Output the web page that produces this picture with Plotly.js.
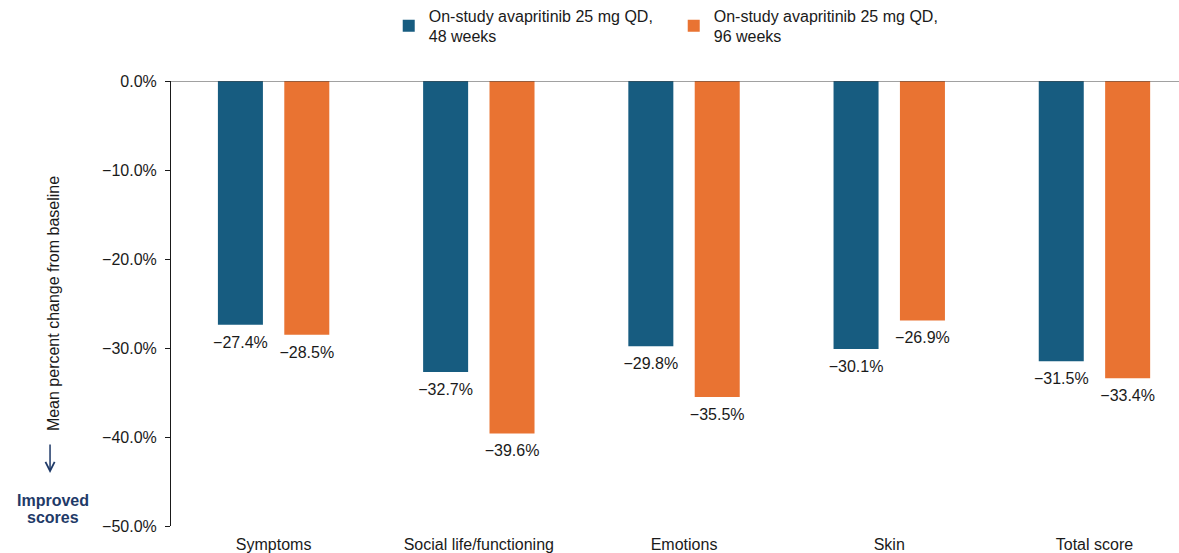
<!DOCTYPE html>
<html>
<head>
<meta charset="utf-8">
<script src="https://cdn.plot.ly/plotly-3.0.1.min.js"></script>
<style>html,body{margin:0;padding:0;background:#fff;}#chart{width:1179px;height:553px;}</style>
</head>
<body>
<div id="chart"></div>
<script>
const categories = ["Symptoms", "Social life/functioning", "Emotions", "Skin", "Total score"];
const weeks48 = [-27.4, -32.7, -29.8, -30.1, -31.5];
const weeks96 = [-28.5, -39.6, -35.5, -26.9, -33.4];
const seriesNames = ["On-study avapritinib 25 mg QD,<br>48 weeks", "On-study avapritinib 25 mg QD,<br>96 weeks"];
const yTicks = [0, -10, -20, -30, -40, -50];

const fmt = v => (v < 0 ? "\u2212" : "") + Math.abs(v).toFixed(1) + "%";

const font = "Liberation Sans, Arial, sans-serif";
const ink = "#1a1a1a";
const blue = "#175c80";
const orange = "#e97332";
const navy = "#1f3a68";

const barTrace = (vals, name, color, grp) => ({
  type: "bar", x: categories, y: vals, name: name, marker: {color: color},
  offsetgroup: grp, alignmentgroup: "a", hoverinfo: "skip"
});
const labelTrace = (vals, grp) => ({
  type: "scatter", mode: "markers+text", x: categories, y: vals,
  text: vals.map(fmt), textposition: "bottom center", cliponaxis: false,
  marker: {size: 16, opacity: 0}, offsetgroup: grp, alignmentgroup: "a",
  textfont: {family: font, size: 16, color: ink}, showlegend: false, hoverinfo: "skip"
});

const traces = [
  barTrace(weeks48, seriesNames[0], blue, "g1"),
  barTrace(weeks96, seriesNames[1], orange, "g2"),
  labelTrace(weeks48, "g1"),
  labelTrace(weeks96, "g2")
];

const layout = {
  width: 1179, height: 553,
  margin: {l: 171, r: 0, t: 81, b: 27, autoexpand: false},
  paper_bgcolor: "#fff", plot_bgcolor: "#fff",
  font: {family: font, size: 16, color: ink},
  barmode: "group", bargap: 0.353, bargroupgap: 0.322,
  scattermode: "group", scattergap: 0.353,
  showlegend: true,
  legend: {orientation: "h", x: 0.216, xanchor: "left", yref: "container", y: 0.953, yanchor: "middle",
           font: {family: font, size: 16, color: ink}, entrywidth: 240, entrywidthmode: "pixels",
           itemwidth: 30, traceorder: "normal", bgcolor: "rgba(0,0,0,0)"},
  xaxis: {range: [-0.5, 4.412], showline: false, showgrid: false, zeroline: false, ticks: "",
          ticklabelstandoff: 7, automargin: false,
          tickfont: {family: font, size: 16, color: ink}},
  yaxis: {range: [-50, 0], tickvals: yTicks, ticktext: yTicks.map(fmt), automargin: false,
          showline: true, linecolor: ink, linewidth: 1, ticks: "outside", ticklen: 5, tickcolor: ink,
          ticklabelstandoff: 5, showgrid: false, zeroline: false,
          tickfont: {family: font, size: 16, color: ink},
          title: {text: "Mean percent change from baseline", standoff: 38,
                  font: {family: font, size: 16, color: ink}}},
  shapes: [{type: "line", xref: "paper", yref: "y", x0: 0, x1: 1, y0: 0, y1: 0,
            line: {color: "#444", width: 1.2}}],
  annotations: [
    {xref: "paper", yref: "paper", x: -0.12, y: 0.119, text: "", showarrow: true,
     ax: 0, ay: -30, arrowhead: 5, arrowsize: 1.2, arrowwidth: 1.5, arrowcolor: navy},
    {xref: "paper", yref: "paper", x: -0.117, y: 0.0584, text: "<b>Improved</b>", showarrow: false,
     font: {family: font, size: 16, color: navy}, xanchor: "center", yanchor: "middle"},
    {xref: "paper", yref: "paper", x: -0.117, y: 0.018, text: "<b>scores</b>", showarrow: false,
     font: {family: font, size: 16, color: navy}, xanchor: "center", yanchor: "middle"}
  ]
};

Plotly.newPlot("chart", traces, layout, {displayModeBar: false, staticPlot: true});
</script>
</body>
</html>
